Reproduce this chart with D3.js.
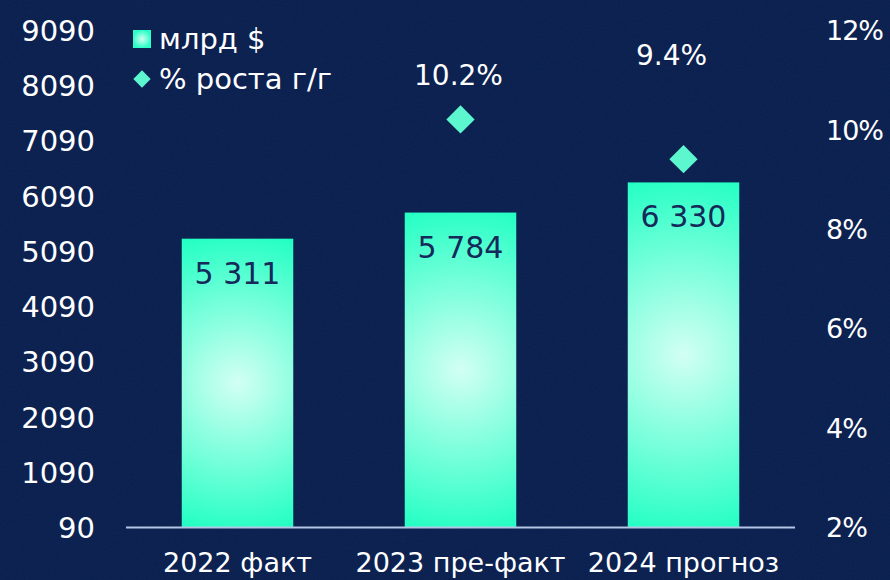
<!DOCTYPE html>
<html>
<head>
<meta charset="utf-8">
<script src="https://cdn.jsdelivr.net/npm/d3@7"></script>
<style>
  body { margin: 0; background: #0a2152; }
  svg text { font-family: "DejaVu Sans", sans-serif; }
</style>
</head>
<body>
<div id="chart"></div>
<script>
var categories = ["2022 факт", "2023 пре-факт", "2024 прогноз"];
var volume = [5311, 5784, 6330];          // млрд $
var growth = [null, 10.2, 9.4];            // % роста г/г
var leftTicks = [90, 1090, 2090, 3090, 4090, 5090, 6090, 7090, 8090, 9090];
var rightTicks = [2, 4, 6, 8, 10, 12];
var legendLabels = ["млрд $", "% роста г/г"];

var svgWidth = 890;
var svgHeight = 580;
var margin = { top: 30, right: 95, bottom: 53, left: 126 };
var width = svgWidth - margin.left - margin.right;
var height = svgHeight - margin.top - margin.bottom;

var svg = d3.select("#chart")
    .append("svg")
    .attr("width", svgWidth)
    .attr("height", svgHeight);

var defs = svg.append("defs");

// grainy background
var noise = defs.append("filter").attr("id", "noise")
    .attr("x", 0).attr("y", 0).attr("width", "100%").attr("height", "100%");
noise.append("feTurbulence")
    .attr("type", "fractalNoise").attr("baseFrequency", 0.9)
    .attr("numOctaves", 2).attr("stitchTiles", "stitch");
noise.append("feColorMatrix").attr("type", "saturate").attr("values", 0);

svg.append("rect")
    .attr("width", svgWidth).attr("height", svgHeight)
    .attr("fill", "#081e4e");
svg.append("rect")
    .attr("width", svgWidth).attr("height", svgHeight)
    .attr("filter", "url(#noise)")
    .attr("opacity", 0.05);

var chart = svg.append("g")
    .attr("transform", `translate(${margin.left}, ${margin.top})`);

var x = d3.scaleBand()
    .domain(categories)
    .range([0, width])
    .paddingInner(0.5)
    .paddingOuter(0.25);

var yLeft = d3.scaleLinear().domain([90, 9090]).range([height, 0]);
var yRight = d3.scaleLinear().domain([2, 12]).range([height, 0]);

// left axis labels
chart.append("g")
    .attr("transform", "translate(-31, 0)")
    .call(d3.axisLeft(yLeft).tickValues(leftTicks).tickSize(0).tickPadding(0).tickFormat(d3.format("d")))
    .call(g => g.select(".domain").remove())
    .selectAll("text")
    .attr("fill", "#ffffff")
    .attr("font-size", 29)
    .attr("dy", "0.36em")
    .attr("font-family", "DejaVu Sans");

// right axis labels
chart.append("g")
    .attr("transform", `translate(${width + 31}, 0)`)
    .call(d3.axisRight(yRight).tickValues(rightTicks).tickSize(0).tickPadding(0).tickFormat(d => d + "%"))
    .call(g => g.select(".domain").remove())
    .selectAll("text")
    .attr("fill", "#ffffff")
    .attr("font-size", 27)
    .attr("letter-spacing", -1)
    .attr("dy", "0.36em")
    .attr("font-family", "DejaVu Sans");

// bar gradients (one per bar so the glow stays round)
volume.forEach(function (v, i) {
    var top = yLeft(v);
    var g = defs.append("radialGradient")
        .attr("id", "barGrad" + i)
        .attr("gradientUnits", "userSpaceOnUse")
        .attr("cx", x(categories[i]) + x.bandwidth() / 2)
        .attr("cy", (top + height) / 2)
        .attr("r", (height - top) * 0.58);
    g.append("stop").attr("offset", "0%").attr("stop-color", "#d2fff3");
    g.append("stop").attr("offset", "100%").attr("stop-color", "#12ffbf");
});

var legendGrad = defs.append("radialGradient").attr("id", "legendGrad");
legendGrad.append("stop").attr("offset", "0%").attr("stop-color", "#d2fff3");
legendGrad.append("stop").attr("offset", "100%").attr("stop-color", "#2affc6");

// bars
chart.selectAll(".bar")
    .data(volume)
    .enter()
    .append("rect")
    .attr("class", "bar")
    .attr("x", (d, i) => x(categories[i]))
    .attr("y", d => yLeft(d))
    .attr("width", x.bandwidth())
    .attr("height", d => height - yLeft(d))
    .attr("fill", (d, i) => `url(#barGrad${i})`);

// baseline
chart.append("line")
    .attr("x1", 0).attr("x2", width)
    .attr("y1", height + 0.5).attr("y2", height + 0.5)
    .attr("stroke", "#b4c6e6")
    .attr("stroke-width", 2);

// bar value labels
var fmt = d3.formatLocale({ decimal: ",", thousands: " ", grouping: [3], currency: ["", ""] }).format(",d");
chart.selectAll(".barLabel")
    .data(volume)
    .enter()
    .append("text")
    .attr("x", (d, i) => x(categories[i]) + x.bandwidth() / 2)
    .attr("y", d => yLeft(d) + 45)
    .attr("text-anchor", "middle")
    .attr("fill", "#15295a")
    .attr("font-size", 30)
    .text(d => fmt(d));

// x category labels
chart.append("g")
    .attr("transform", `translate(0, ${height})`)
    .call(d3.axisBottom(x).tickSize(0).tickPadding(0))
    .call(g => g.select(".domain").remove())
    .selectAll("text")
    .attr("fill", "#ffffff")
    .attr("font-size", 27)
    .attr("font-family", "DejaVu Sans")
    .attr("dy", 0)
    .attr("y", 45);

// growth diamonds
var growthPts = growth.map((g, i) => ({ cat: categories[i], g: g })).filter(d => d.g !== null);
var diamond = d3.symbol().type(d3.symbolSquare).size(400);

chart.selectAll(".diamond")
    .data(growthPts)
    .enter()
    .append("path")
    .attr("d", diamond)
    .attr("transform", d => `translate(${x(d.cat) + x.bandwidth() / 2}, ${yRight(d.g)}) rotate(45)`)
    .attr("fill", "#5cf6cf");

var labelLift = [34, 94];
chart.selectAll(".growthLabel")
    .data(growthPts)
    .enter()
    .append("text")
    .attr("x", (d, i) => x(d.cat) + x.bandwidth() / 2 - (i === 1 ? 12 : 2))
    .attr("y", (d, i) => yRight(d.g) - labelLift[i])
    .attr("text-anchor", "middle")
    .attr("fill", "#ffffff")
    .attr("font-size", 28)
    .text(d => d.g.toFixed(1) + "%");

// legend
var legend = svg.append("g").attr("transform", "translate(133, 0)");
legend.append("rect")
    .attr("x", 0).attr("y", 30).attr("width", 18).attr("height", 18)
    .attr("fill", "url(#legendGrad)");
legend.append("text")
    .attr("x", 26).attr("y", 49)
    .attr("fill", "#ffffff").attr("font-size", 29)
    .text(legendLabels[0]);
legend.append("path")
    .attr("d", d3.symbol().type(d3.symbolSquare).size(150))
    .attr("transform", "translate(9, 79) rotate(45)")
    .attr("fill", "#5cf6cf");
legend.append("text")
    .attr("x", 26).attr("y", 89)
    .attr("fill", "#ffffff").attr("font-size", 29)
    .text(legendLabels[1]);
</script>
</body>
</html>
